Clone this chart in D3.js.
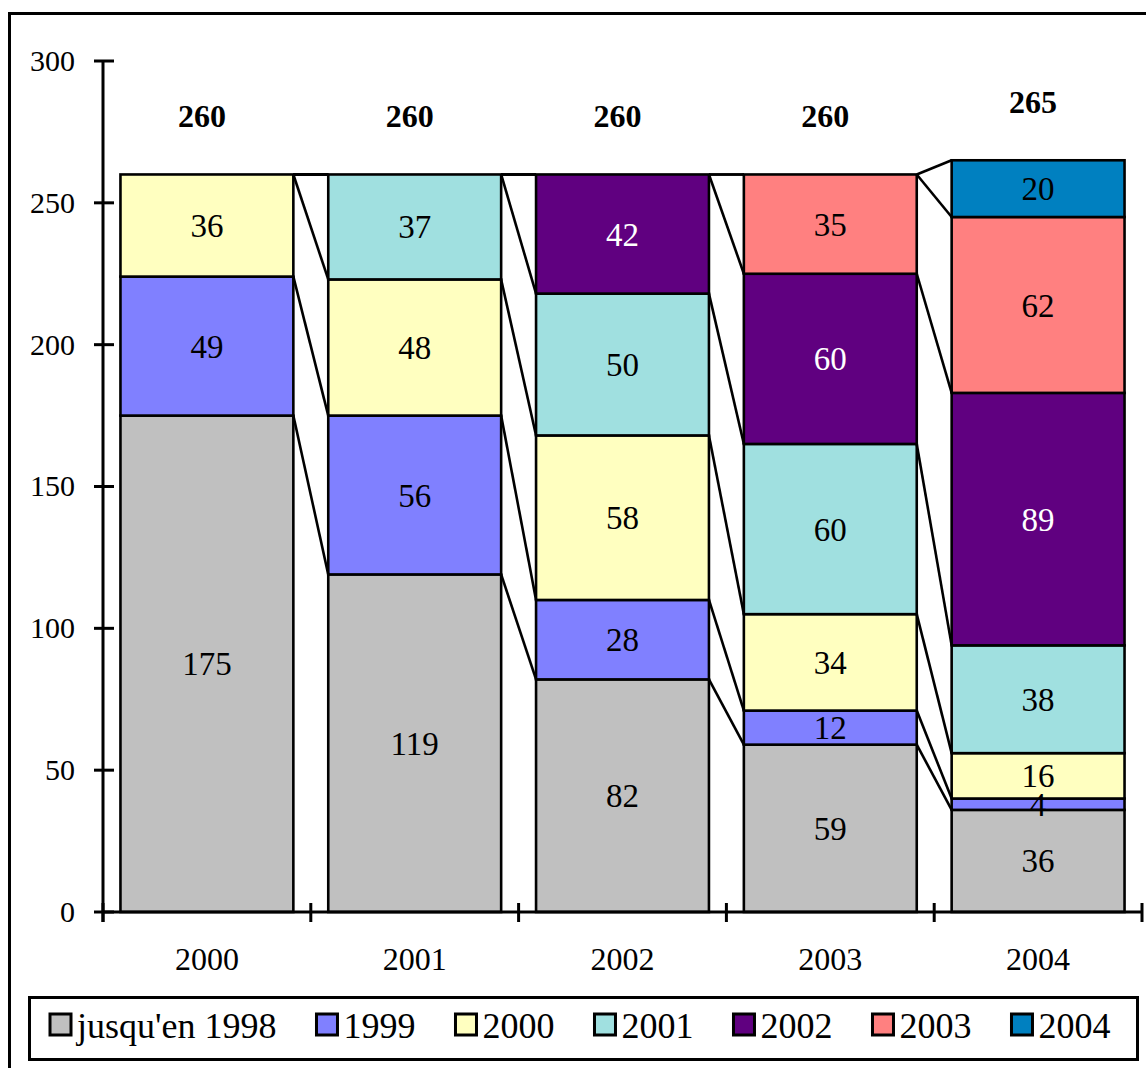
<!DOCTYPE html>
<html><head><meta charset="utf-8">
<script src="https://cdn.jsdelivr.net/npm/d3@7"></script>
<style>html,body{margin:0;padding:0;background:#fff;overflow:hidden}</style>
</head><body>
<svg id="c" width="1146" height="1068"></svg>
<script>
const categories = ["2000","2001","2002","2003","2004"];
const seriesNames = ["jusqu'en 1998","1999","2000","2001","2002","2003","2004"];
const s1998 = [175,119,82,59,36];
const s1999 = [49,56,28,12,4];
const s2000 = [36,48,58,34,16];
const s2001 = [0,37,50,60,38];
const s2002 = [0,0,42,60,89];
const s2003 = [0,0,0,35,62];
const s2004 = [0,0,0,0,20];
const totals = [260,260,260,260,265];
const yTicks = [0,50,100,150,200,250,300];
const colors = ["#C0C0C0","#8080FF","#FFFFC0","#A0E0E0","#600080","#FF8080","#0080C0"];
const labelColors = ["#000","#000","#000","#000","#fff","#000","#000"];

const seriesValues = [s1998,s1999,s2000,s2001,s2002,s2003,s2004];
const rows = categories.map((c,i)=>{const r={cat:c}; seriesNames.forEach((s,j)=>r[s]=seriesValues[j][i]); return r;});
const stack = d3.stack().keys(seriesNames)(rows);

const svg = d3.select("#c");
const font = "'Liberation Serif','Times New Roman',serif";

// outer border
svg.append("rect").attr("x",9.5).attr("y",13.5).attr("width",1200).attr("height",1100)
  .attr("fill","#fff").attr("stroke","#000").attr("stroke-width",3);

const x = d3.scaleBand().domain(categories).range([103,1142]).paddingInner(0).paddingOuter(0);
const y = d3.scaleLinear().domain([0,300]).range([912,61]);
const barPad = x.bandwidth()*0.084;
const barW = x.bandwidth()-2*barPad;
const bx = c => x(c)+barPad;

// bars
stack.forEach((layer,j)=>{
  svg.append("g").selectAll("rect").data(layer).join("rect")
    .attr("x",d=>bx(d.data.cat)).attr("width",barW)
    .attr("y",d=>y(d[1])).attr("height",d=>y(d[0])-y(d[1]))
    .attr("fill",colors[j]).attr("stroke","#000").attr("stroke-width",2.6)
    .attr("display",d=>d[1]-d[0]>0?null:"none");
});

// series lines
const sl = svg.append("g").attr("stroke","#000").attr("stroke-width",2.6).attr("fill","none");
stack.forEach((layer,j)=>{
  for(let i=0;i<categories.length-1;i++){
    sl.append("line")
      .attr("x1",bx(categories[i])+barW).attr("y1",y(layer[i][1]))
      .attr("x2",bx(categories[i+1])).attr("y2",y(layer[i+1][1]));
  }
});

// value labels
stack.forEach((layer,j)=>{
  svg.append("g").selectAll("text").data(layer.filter(d=>d[1]-d[0]>0)).join("text")
    .attr("x",d=>x(d.data.cat)+x.bandwidth()/2)
    .attr("y",d=>y((d[0]+d[1])/2))
    .attr("dy","0.35em")
    .attr("text-anchor","middle")
    .attr("font-family",font).attr("font-size",33)
    .attr("fill",labelColors[j])
    .text(d=>d[1]-d[0]);
});

// totals
svg.append("g").selectAll("text").data(categories).join("text")
  .attr("x",c=>x(c)+x.bandwidth()/2-5)
  .attr("y",(c,i)=>y(totals[i])-47)
  .attr("text-anchor","middle")
  .attr("font-family",font).attr("font-size",32).attr("font-weight","bold")
  .text((c,i)=>totals[i]);

// y axis
const yAxis = svg.append("g");
yAxis.append("line").attr("x1",103).attr("x2",103).attr("y1",y(300)).attr("y2",y(0)+10)
  .attr("stroke","#000").attr("stroke-width",3);
yAxis.selectAll("line.t").data(yTicks).join("line").attr("class","t")
  .attr("x1",94).attr("x2",114).attr("y1",d=>y(d)).attr("y2",d=>y(d))
  .attr("stroke","#000").attr("stroke-width",3);
yAxis.selectAll("text").data(yTicks).join("text")
  .attr("x",75).attr("y",d=>y(d)).attr("dy","0.33em").attr("text-anchor","end")
  .attr("font-family",font).attr("font-size",30).text(d=>d);

// x axis
const xAxis = svg.append("g");
xAxis.append("line").attr("x1",103).attr("x2",1142).attr("y1",y(0)).attr("y2",y(0))
  .attr("stroke","#000").attr("stroke-width",3);
const xt = categories.map(c=>x(c)).concat([x(categories[categories.length-1])+x.bandwidth()]);
xAxis.selectAll("line.t").data(xt).join("line").attr("class","t")
  .attr("x1",d=>d).attr("x2",d=>d).attr("y1",y(0)-9).attr("y2",y(0)+10)
  .attr("stroke","#000").attr("stroke-width",3);
xAxis.selectAll("text").data(categories).join("text")
  .attr("x",c=>x(c)+x.bandwidth()/2).attr("y",970).attr("text-anchor","middle")
  .attr("font-family",font).attr("font-size",32).text(c=>c);

// legend
svg.append("rect").attr("x",29.5).attr("y",997.5).attr("width",1108).attr("height",62)
  .attr("fill","#fff").attr("stroke","#000").attr("stroke-width",3);
const lg = svg.append("g");
let lx = 50;
seriesNames.forEach((s,j)=>{
  lg.append("rect").attr("x",lx).attr("y",1014).attr("width",21).attr("height",21)
    .attr("fill",colors[j]).attr("stroke","#000").attr("stroke-width",3);
  const t = lg.append("text").attr("x",lx+27).attr("y",1038)
    .attr("font-family",font).attr("font-size",36).text(s);
  const w = t.node().getComputedTextLength();
  lx += 27 + w + 40;
});
</script>
</body></html>
